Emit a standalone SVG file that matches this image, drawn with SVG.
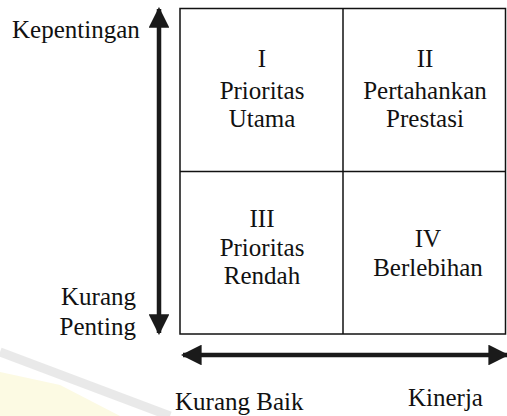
<svg xmlns="http://www.w3.org/2000/svg" width="507" height="416" viewBox="0 0 507 416">
<style>
text{font-family:"Liberation Serif","Times New Roman",serif;font-size:25px;fill:#111;}
.c{text-anchor:middle;}
.e{text-anchor:end;}
.grid{fill:none;stroke:#111;stroke-width:1.5;}
.ax{stroke:#1a1a1a;stroke-width:4.5;fill:none;}
</style>
<defs>
<marker id="ah" viewBox="0 0 10 10" refX="9" refY="5" markerWidth="4.6" markerHeight="4.6" markerUnits="strokeWidth" orient="auto-start-reverse">
<path d="M0,0 L10,5 L0,10 z" fill="#1a1a1a"/>
</marker>
</defs>
<g id="watermark" opacity="0.5">
<polygon points="0,372 60,385 120,416 0,416" fill="#fbf6c8"/>
<line x1="0" y1="352" x2="170" y2="416" stroke="#d4d4d4" stroke-width="9"/>
</g>
<g id="connectors">
<line class="ax" x1="159" y1="333" x2="159" y2="9" marker-end="url(#ah)" marker-start="url(#ah)"/>
<line class="ax" x1="183" y1="355" x2="507" y2="355" marker-end="url(#ah)" marker-start="url(#ah)"/>
</g>
<g id="grid">
<rect class="grid" x="180" y="8.5" width="325.5" height="325.5"/>
<line class="grid" x1="343" y1="8.5" x2="343" y2="334"/>
<line class="grid" x1="180" y1="171.5" x2="505.5" y2="171.5"/>
</g>
<g id="q1">
<text class="c" x="262" y="67">I</text>
<text class="c" x="262" y="99">Prioritas</text>
<text class="c" x="262" y="127">Utama</text>
</g>
<g id="q2">
<text class="c" x="425" y="67">II</text>
<text class="c" x="425" y="99">Pertahankan</text>
<text class="c" x="425" y="127">Prestasi</text>
</g>
<g id="q3">
<text class="c" x="262" y="227">III</text>
<text class="c" x="262" y="256">Prioritas</text>
<text class="c" x="262" y="284">Rendah</text>
</g>
<g id="q4">
<text class="c" x="428" y="247">IV</text>
<text class="c" x="428" y="276">Berlebihan</text>
</g>
<g id="labels">
<text x="12" y="38">Kepentingan</text>
<text class="e" x="136" y="305">Kurang</text>
<text class="e" x="136" y="335">Penting</text>
<text x="175" y="410">Kurang Baik</text>
<text x="408" y="406">Kinerja</text>
</g>
</svg>
